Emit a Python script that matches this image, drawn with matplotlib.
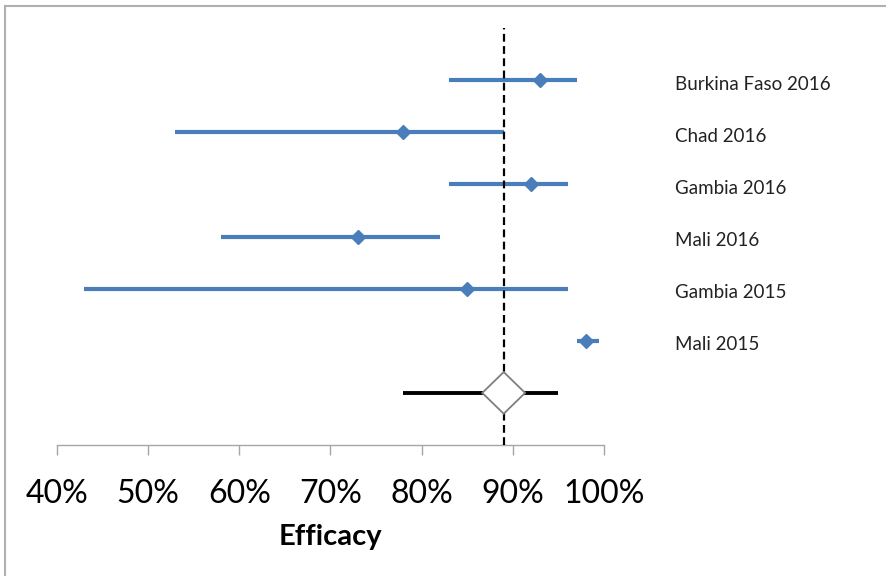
import matplotlib

matplotlib.use("Agg")
import matplotlib.pyplot as plt
from matplotlib.lines import Line2D
from matplotlib.patches import Polygon

plt.rcParams["font.family"] = ["Lato", "DejaVu Sans"]

studies = ["Burkina Faso 2016", "Chad 2016", "Gambia 2016", "Mali 2016", "Gambia 2015", "Mali 2015"]
efficacy = [93, 78, 92, 73, 85, 98]
ci_low = [83, 53, 83, 58, 43, 97]
ci_high = [97, 89, 96, 82, 96, 99.5]

pooled = 89
pooled_low = 78
pooled_high = 95

x_ticks = [40, 50, 60, 70, 80, 90, 100]
x_ticklabels = ["40%", "50%", "60%", "70%", "80%", "90%", "100%"]

BLUE = "#4a7ebb"
GREY = "#a6a6a6"

fig = plt.figure(figsize=(8.86, 5.76), dpi=100)
ax = fig.add_axes([0.0643, 0.2274, 0.6174, 0.724])

# rows from top to bottom, pooled estimate at y = 0
ys = list(range(len(studies), 0, -1))

for y, e, lo, hi in zip(ys, efficacy, ci_low, ci_high):
    ax.plot([lo, hi], [y, y], color=BLUE, lw=3.0, solid_capstyle="butt", zorder=2)
    ax.plot([e], [y], marker="D", ms=7.5, color=BLUE, zorder=4)

ax.plot([pooled_low, pooled_high], [0, 0], color="black", lw=2.8, solid_capstyle="butt", zorder=2)
ax.axvline(pooled, color="black", lw=1.6, ls=(0, (3.5, 2)), zorder=3)

dx, dy = 2.35, 0.4
diamond = Polygon(
    [(pooled - dx, 0), (pooled, dy), (pooled + dx, 0), (pooled, -dy)],
    closed=True, facecolor="white", edgecolor="#7f7f7f", lw=1.3, zorder=5,
)
ax.add_patch(diamond)

# study labels sit a little below their lines, as in the original
for y, name in zip(ys, studies):
    ax.text(1.13, y - 0.08, name, transform=ax.get_yaxis_transform(), fontsize=13.5,
            color="#222222", va="center", ha="left")

ax.set_xlim(40, 100)
ax.set_ylim(-1, 7)
ax.set_xticks(x_ticks)
ax.set_xticklabels(x_ticklabels, fontsize=23)
ax.set_yticks([])
ax.tick_params(axis="x", direction="out", length=7.5, width=1, color=GREY, pad=17)
for side in ["top", "right", "left"]:
    ax.spines[side].set_visible(False)
ax.spines["bottom"].set_color(GREY)
ax.spines["bottom"].set_linewidth(1)
ax.set_xlabel("Efficacy", fontsize=21, fontweight="bold", labelpad=11)

# frame lines of the original chart area
fig.add_artist(Line2D([0.0056, 1.0], [0.9896, 0.9896], color="#b0b0b0", lw=1.5))
fig.add_artist(Line2D([0.0056, 0.0056], [0.0, 0.9896], color="#b0b0b0", lw=1.5))

# descender of the cut-off title above the chart
fig.text(0.277, 1.0125, "g", fontsize=20, fontweight="bold", ha="center", va="baseline")

fig.savefig("out.png", dpi=100)
